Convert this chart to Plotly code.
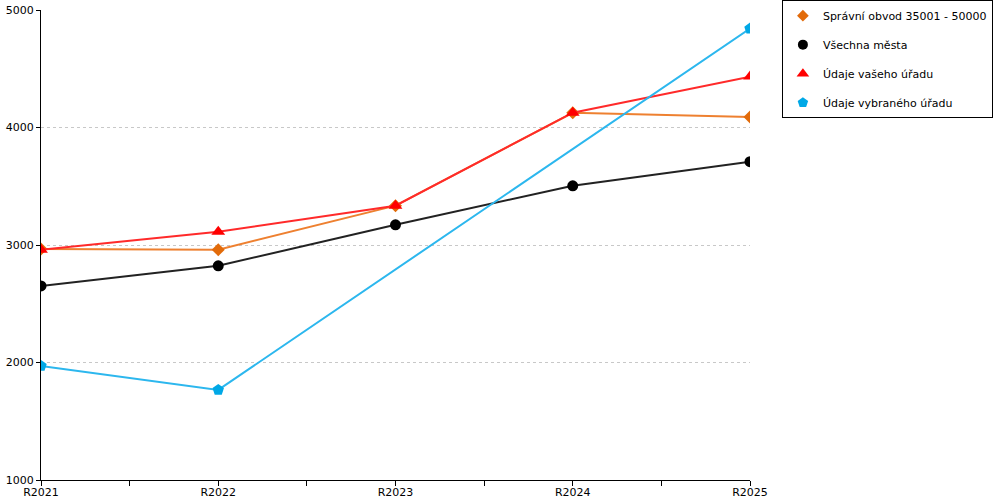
import plotly.graph_objects as go

# roky a hodnoty jednotlivych rad
roky = ["R2021", "R2022", "R2023", "R2024", "R2025"]
spravni_obvod = [2965, 2960, 3335, 4125, 4090]
vsechna_mesta = [2652, 2823, 3172, 3504, 3709]
vas_urad = [2960, 3112, 3334, 4126, 4433]
vybrany_urad = [1971, 1767, None, None, 4842]

y_ticks = [1000, 2000, 3000, 4000, 5000]

pozice = list(range(len(roky)))

rady = [
    ("Správní obvod 35001 - 50000", spravni_obvod, "#ee8030", "#e26b0a", "diamond", 10),
    ("Všechna města", vsechna_mesta, "#222222", "#000000", "circle", 11),
    ("Údaje vašeho úřadu", vas_urad, "#ff2a2a", "#ff0000", "triangle-up", 12),
    ("Údaje vybraného úřadu", vybrany_urad, "#2cb7ee", "#00a8e6", "pentagon", 12),
]

fig = go.Figure()
for i, (nazev, hodnoty, barva_cary, barva_znacky, symbol, velikost) in enumerate(rady):
    fig.add_trace(go.Scatter(
        x=pozice, y=hodnoty, name=nazev, mode="lines+markers",
        connectgaps=True, showlegend=False,
        line=dict(color=barva_cary, width=2),
        marker=dict(color=barva_znacky, symbol=symbol, size=velikost, line=dict(width=0)),
    ))
    # v legende jen znacka bez cary
    fig.add_trace(go.Scatter(
        x=[None], y=[None], name=nazev, mode="markers", legendgroup=str(i),
        marker=dict(color=barva_znacky, symbol=symbol, size=velikost - 1, line=dict(width=0)),
    ))

fig.update_layout(
    width=1000, height=500,
    margin=dict(l=41, r=250, t=10, b=20, autoexpand=False),
    paper_bgcolor="white", plot_bgcolor="white",
    font=dict(family="DejaVu Sans", size=11, color="#000000"),
    showlegend=True,
    legend=dict(
        x=1.045, y=1.021, xanchor="left", yanchor="top",
        bordercolor="#000000", borderwidth=1,
        tracegroupgap=10, traceorder="grouped",
        font=dict(size=11),
    ),
    xaxis=dict(
        range=[0, len(roky) - 1], tickvals=pozice, ticktext=roky,
        showgrid=False, zeroline=False, automargin=False,
        showline=True, linecolor="#000000", linewidth=1,
        ticks="outside", ticklen=5, tickcolor="#000000",
        ticklabelstandoff=-3,
        minor=dict(dtick=0.5, tick0=0, ticks="outside", ticklen=5, tickcolor="#000000", showgrid=False),
        tickfont=dict(size=11),
    ),
    yaxis=dict(
        range=[1000, 5000], tickvals=y_ticks, automargin=False,
        showgrid=True, gridcolor="#c8c8c8", griddash="dot", gridwidth=1,
        zeroline=False,
        showline=True, linecolor="#000000", linewidth=1,
        ticks="outside", ticklen=4, tickcolor="#000000",
        tickfont=dict(size=11),
    ),
    yaxis2=dict(
        overlaying="y", side="right", anchor="x", range=[1000, 5000],
        showline=True, linecolor="#000000", linewidth=1, automargin=False,
        showticklabels=False, showgrid=False, zeroline=False, ticks="",
    ),
)

fig.write_html("out.html", config={"displayModeBar": False},
               post_script="document.body.style.margin='0';")
